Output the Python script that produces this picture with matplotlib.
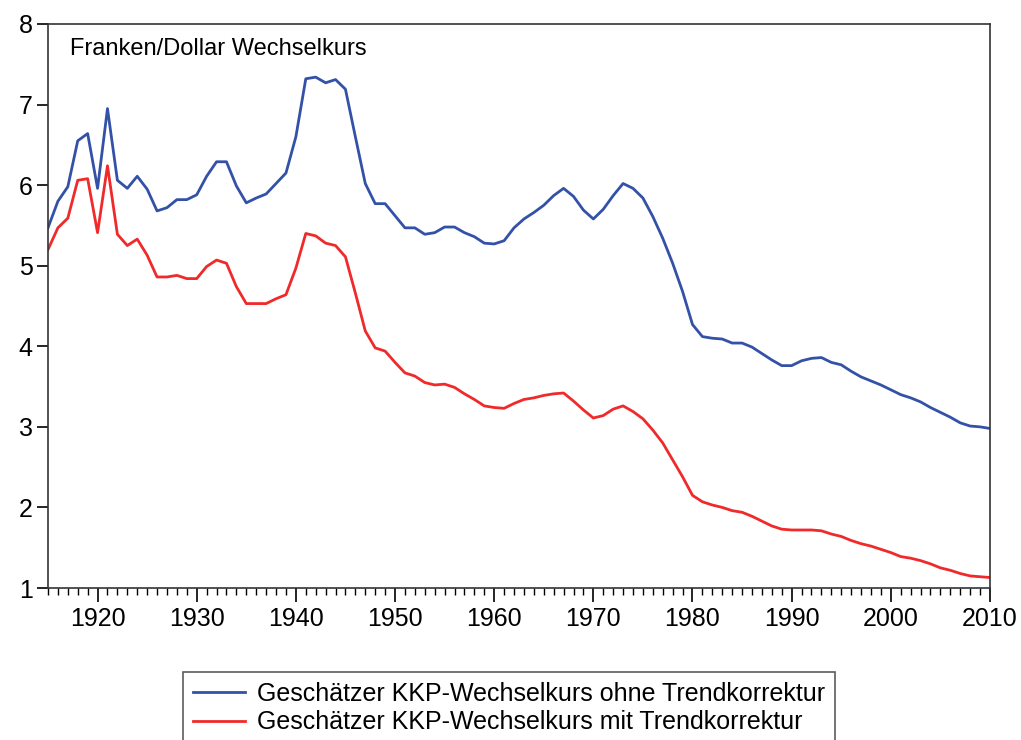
import numpy as np
import matplotlib.pyplot as plt
from matplotlib.ticker import MultipleLocator

plt.rcParams['font.family'] = ['Liberation Sans', 'DejaVu Sans']

years = list(range(1915, 2011))

# Geschätzter KKP-Wechselkurs ohne Trendkorrektur
ohne = [5.47, 5.80, 5.98, 6.55, 6.64, 5.96, 6.95, 6.06, 5.96, 6.11,
        5.95, 5.68, 5.72, 5.82, 5.82, 5.88, 6.11, 6.29, 6.29, 5.99,
        5.78, 5.84, 5.89, 6.02, 6.15, 6.60, 7.32, 7.34, 7.27, 7.31,
        7.19, 6.60, 6.02, 5.77, 5.77, 5.62, 5.47, 5.47, 5.39, 5.41,
        5.48, 5.48, 5.41, 5.36, 5.28, 5.27, 5.31, 5.47, 5.58, 5.66,
        5.75, 5.87, 5.96, 5.86, 5.69, 5.58, 5.70, 5.87, 6.02, 5.96,
        5.84, 5.61, 5.34, 5.03, 4.68, 4.27, 4.12, 4.10, 4.09, 4.04,
        4.04, 3.99, 3.91, 3.83, 3.76, 3.76, 3.82, 3.85, 3.86, 3.80,
        3.77, 3.69, 3.62, 3.57, 3.52, 3.46, 3.40, 3.36, 3.31, 3.24,
        3.18, 3.12, 3.05, 3.01, 3.00, 2.98]

# Geschätzter KKP-Wechselkurs mit Trendkorrektur
mit = [5.20, 5.47, 5.59, 6.06, 6.08, 5.41, 6.24, 5.39, 5.25, 5.33,
       5.13, 4.86, 4.86, 4.88, 4.84, 4.84, 4.99, 5.07, 5.03, 4.74,
       4.53, 4.53, 4.53, 4.59, 4.64, 4.97, 5.40, 5.37, 5.28, 5.25,
       5.11, 4.66, 4.19, 3.98, 3.94, 3.80, 3.67, 3.63, 3.55, 3.52,
       3.53, 3.49, 3.41, 3.34, 3.26, 3.24, 3.23, 3.29, 3.34, 3.36,
       3.39, 3.41, 3.42, 3.32, 3.21, 3.11, 3.14, 3.22, 3.26, 3.19,
       3.10, 2.96, 2.80, 2.59, 2.38, 2.15, 2.07, 2.03, 2.00, 1.96,
       1.94, 1.89, 1.83, 1.77, 1.73, 1.72, 1.72, 1.72, 1.71, 1.67,
       1.64, 1.59, 1.55, 1.52, 1.48, 1.44, 1.39, 1.37, 1.34, 1.30,
       1.25, 1.22, 1.18, 1.15, 1.14, 1.13]

fig = plt.figure(figsize=(10.21, 7.4), dpi=100)
ax = fig.add_axes([0.047, 0.2054, 0.9226, 0.7622])

l1, = ax.plot(years, ohne, color='#3451a8', lw=2.0)
l2, = ax.plot(years, mit, color='#f02a2a', lw=2.0)

ax.set_xlim(1915, 2010)
ax.set_ylim(1, 8)
ax.xaxis.set_major_locator(MultipleLocator(10))
ax.xaxis.set_minor_locator(MultipleLocator(1))
ax.yaxis.set_major_locator(MultipleLocator(1))
ax.tick_params(axis='x', which='major', direction='out', length=10, width=1.2,
               labelsize=18, pad=4, top=False)
ax.tick_params(axis='x', which='minor', direction='out', length=5, width=1.0, top=False)
ax.tick_params(axis='y', which='major', direction='out', length=8, width=1.2,
               labelsize=18, pad=3, right=False)
for s in ax.spines.values():
    s.set_linewidth(1.2)
    s.set_color('#333333')

ax.text(0.023, 0.956, 'Franken/Dollar Wechselkurs', transform=ax.transAxes,
        fontsize=17, va='center', ha='left')

leg = fig.legend([l1, l2],
                 ['Geschätzer KKP-Wechselkurs ohne Trendkorrektur',
                  'Geschätzer KKP-Wechselkurs mit Trendkorrektur'],
                 loc='upper left', bbox_to_anchor=(0.179, 0.092),
                 bbox_transform=fig.transFigure, fontsize=18,
                 frameon=True, fancybox=False, edgecolor='#333333',
                 handlelength=2.1, handletextpad=0.45, borderpad=0.4,
                 labelspacing=0.18, borderaxespad=0)
leg.get_frame().set_linewidth(1.2)

fig.savefig('out.png', dpi=100)
